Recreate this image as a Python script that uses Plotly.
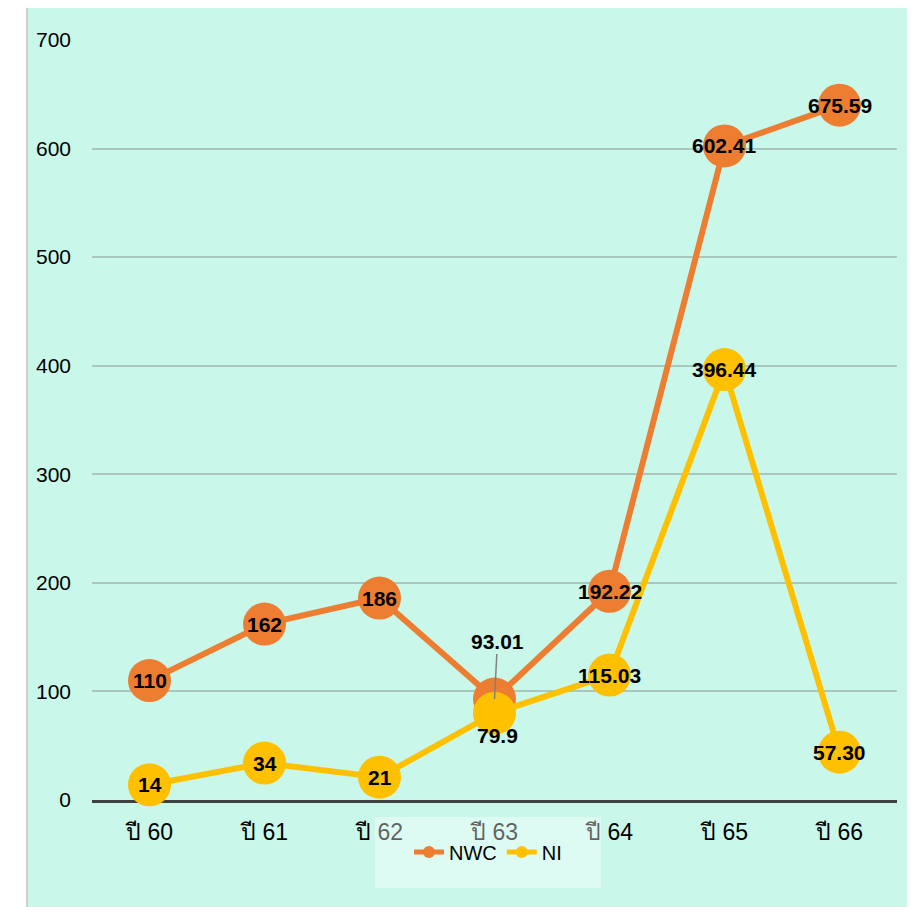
import plotly.graph_objects as go

categories = ["ปี 60", "ปี 61", "ปี 62", "ปี 63", "ปี 64", "ปี 65", "ปี 66"]
nwc_values = [110, 162, 186, 93.01, 192.22, 602.41, 640]
nwc_labels = ["110", "162", "186", "93.01", "192.22", "602.41", "675.59"]
ni_values = [14, 34, 21, 79.9, 115.03, 396.44, 44]
ni_labels = ["14", "34", "21", "79.9", "115.03", "396.44", "57.30"]
y_ticks = [0, 100, 200, 300, 400, 500, 600, 700]

ORANGE = "#ED7D31"
YELLOW = "#FFC000"
MINT = "#C9F8EA"
FONT = "Liberation Sans, Arial, sans-serif"

fig = go.Figure()
fig.add_trace(go.Scatter(
    x=categories, y=nwc_values, name="NWC", mode="lines+markers",
    line=dict(color=ORANGE, width=6),
    marker=dict(color=ORANGE, size=43),
    cliponaxis=False,
))
fig.add_trace(go.Scatter(
    x=categories, y=ni_values, name="NI", mode="lines+markers",
    line=dict(color=YELLOW, width=6),
    marker=dict(color=YELLOW, size=43),
    cliponaxis=False,
))

annotations = []
label_font = dict(family=FONT, size=21, color="black", weight="bold")
for cat, val, lab in zip(categories, nwc_values, nwc_labels):
    if lab == "93.01":
        annotations.append(dict(x=cat, y=val, text=lab, showarrow=True, ax=3, ay=-58,
                                arrowhead=0, arrowcolor="#808080", arrowwidth=1.5,
                                standoff=0, font=label_font))
    else:
        annotations.append(dict(x=cat, y=val, text=lab, showarrow=False, font=label_font))
for cat, val, lab in zip(categories, ni_values, ni_labels):
    if lab == "79.9":
        annotations.append(dict(x=cat, y=val, text=lab, showarrow=False, yshift=-22,
                                xshift=3, font=label_font))
    else:
        annotations.append(dict(x=cat, y=val, text=lab, showarrow=False, font=label_font))

OFF = 8  # page body margin
L, R, T, B = 92 - OFF, 18, 40 - OFF, 107
W, H = 915 - OFF, 907 - OFF
pw, ph = W - L - R, H - T - B

def px(x):
    return (x - OFF - L) / pw

def py(y):
    return (H - B - (y - OFF)) / ph

shapes = [
    dict(type="rect", xref="paper", yref="paper", layer="below",
         x0=px(27), x1=px(930), y0=py(920), y1=py(6),
         fillcolor=MINT, line=dict(color="#C4C4C4", width=1.5)),
    dict(type="rect", xref="paper", yref="paper", layer="above",
         x0=px(375), x1=px(601), y0=py(888), y1=py(817),
         fillcolor="rgba(255,255,255,0.38)", line=dict(width=0)),
]

fig.update_layout(
    width=W, height=H,
    margin=dict(l=L, r=R, t=T, b=B, pad=0),
    paper_bgcolor="white",
    plot_bgcolor="rgba(0,0,0,0)",
    font=dict(family=FONT, size=21, color="black"),
    showlegend=True,
    legend=dict(orientation="h", x=px(488), xanchor="center", y=py(852), yanchor="middle",
                bgcolor="rgba(0,0,0,0)", font=dict(size=20, family=FONT),
                itemsizing="constant"),
    annotations=annotations,
    shapes=shapes,
    xaxis=dict(type="category", range=[-0.5, 6.5], showgrid=False, zeroline=False,
               showline=True, linecolor="#404040", linewidth=3, layer="below traces",
               ticks="", ticklabelstandoff=9, tickfont=dict(size=23)),
    yaxis=dict(range=[0, 700], tickvals=y_ticks, showgrid=True, gridcolor="#A9C7BC",
               gridwidth=1.5, zeroline=False, showline=False, ticks="",
               ticklabelstandoff=20, tickfont=dict(size=21)),
)

fig.write_html("out.html")
